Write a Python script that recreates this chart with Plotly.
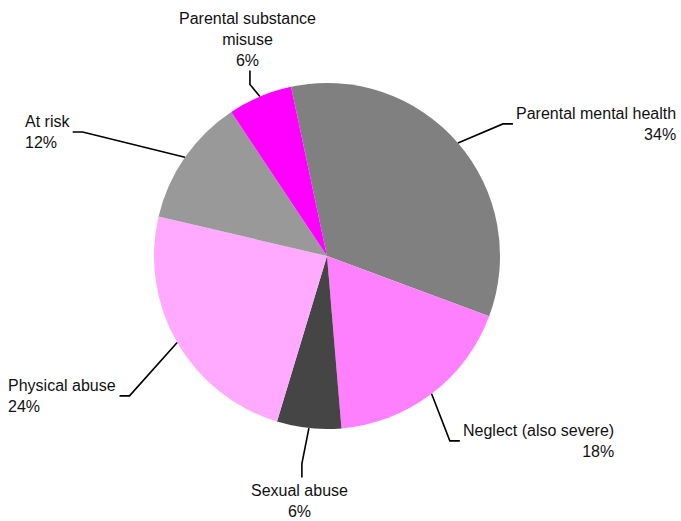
import math
import plotly.graph_objects as go

# slices, clockwise from the top
categories = ["Parental mental health", "Neglect (also severe)", "Sexual abuse",
              "Physical abuse", "At risk", "Parental substance misuse"]
values = [34, 18, 6, 24, 12, 6]
label_text = ["Parental mental health", "Neglect (also severe)", "Sexual abuse",
              "Physical abuse", "At risk", "Parental substance<br>misuse"]
colors = ["#808080", "#ff80ff", "#454545", "#ffaaff", "#999999", "#ff00ff"]

W, H = 681, 521
CX, CY, R = 327, 256, 173       # pie centre / radius in pixels
ROT = -12                       # start angle of first slice (deg, clockwise from 12 o'clock)

# leader line tweaks per slice: extra length past the edge, angle nudge
lead_ext = [47, 49, 36, 69, 101, 15]
lead_rot = [3.9, 3.6, 0.9, -5.3, -7.9, -1.4]
TAIL = 10

fig = go.Figure(go.Pie(
    labels=categories, values=values, sort=False, direction="clockwise",
    rotation=ROT, marker=dict(colors=colors, line=dict(width=0)),
    textinfo="none", hoverinfo="label+percent", showlegend=False,
    domain=dict(x=[(CX - R) / W, (CX + R) / W],
                y=[(H - CY - R) / H, (H - CY + R) / H]),
))


def px2paper(x, y):
    return x / W, 1 - y / H


total = sum(values)
start = ROT
shapes, annots = [], []
for i, v in enumerate(values):
    span = 360 * v / total
    mid = start + span / 2
    start += span
    a = math.radians(mid)
    ex, ey = CX + R * math.sin(a), CY - R * math.cos(a)
    b = math.radians(mid + lead_rot[i])
    bx, by = CX + (R + lead_ext[i]) * math.sin(b), CY - (R + lead_ext[i]) * math.cos(b)
    pct = round(100 * v / total)
    txt = f"{label_text[i]}<br>{pct}%"
    if abs(math.sin(a)) > 0.5:
        # side labels: short horizontal tail
        sx = 1 if math.sin(a) > 0 else -1
        tx, ty = bx + sx * TAIL, by
        ann = dict(xanchor="left" if sx > 0 else "right", yanchor="middle",
                   align="right" if sx > 0 else "left")
        tx_a, ty_a = tx + sx * 1, ty
    else:
        # top / bottom labels: short vertical tail
        sy = 1 if math.cos(a) < 0 else -1  # 1 = downward
        tx, ty = bx, by + sy * 14
        ann = dict(xanchor="center", yanchor="top" if sy > 0 else "bottom", align="center")
        tx_a, ty_a = tx - 2, ty + (3 if sy > 0 else 0)
    p = [px2paper(ex, ey), px2paper(bx, by), px2paper(tx, ty)]
    shapes.append(dict(type="path", xref="paper", yref="paper",
                       path=f"M{p[0][0]},{p[0][1]} L{p[1][0]},{p[1][1]} L{p[2][0]},{p[2][1]}",
                       line=dict(color="black", width=1.6)))
    ax, ay = px2paper(tx_a, ty_a)
    annots.append(dict(x=ax, y=ay, xref="paper", yref="paper", text=txt,
                       showarrow=False, font=dict(size=16, color="#111111"), **ann))

fig.update_layout(
    width=W, height=H, margin=dict(l=0, r=0, t=0, b=0),
    paper_bgcolor="white", plot_bgcolor="white",
    font=dict(family="Liberation Sans, Arial, Helvetica, sans-serif"),
    shapes=shapes, annotations=annots,
)

fig.write_html("out.html", config={"displayModeBar": False},
               post_script="document.body.style.margin='0';")
